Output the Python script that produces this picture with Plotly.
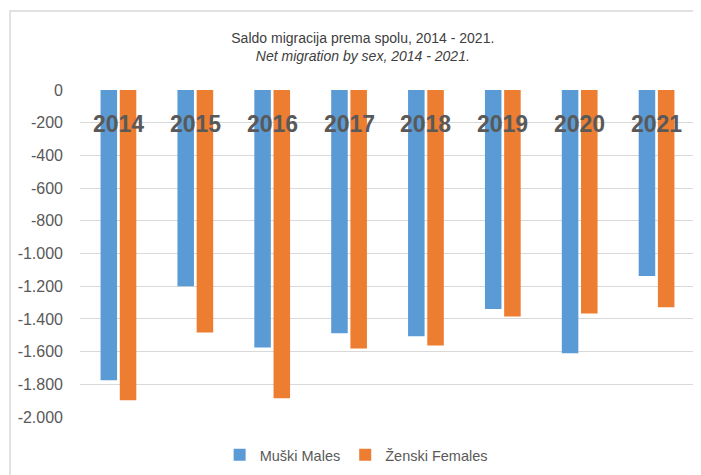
import plotly.graph_objects as go

years = ["2014", "2015", "2016", "2017", "2018", "2019", "2020", "2021"]
males = [-1775, -1200, -1575, -1488, -1506, -1339, -1610, -1137]
females = [-1898, -1483, -1885, -1581, -1563, -1386, -1367, -1328]
y_ticks = [0, -200, -400, -600, -800, -1000, -1200, -1400, -1600, -1800, -2000]
y_tick_text = ["0", "-200", "-400", "-600", "-800", "-1.000", "-1.200", "-1.400", "-1.600", "-1.800", "-2.000"]

FONT = "Liberation Sans Narrow, Arial Narrow, Liberation Sans, Arial, sans-serif"
GREY = "#595959"

fig = go.Figure()
fig.add_trace(go.Bar(x=years, y=males, name="Muški Males",
                     marker=dict(color="#5B9BD5", line=dict(width=0))))
fig.add_trace(go.Bar(x=years, y=females, name="Ženski Females",
                     marker=dict(color="#ED7D31", line=dict(width=0))))

# category labels drawn over the bars near the top (as in the original)
for i, yr in enumerate(years):
    fig.add_annotation(x=i, y=-205, text=yr, showarrow=False,
                       font=dict(family=FONT, size=23, color=GREY, weight="bold"),
                       xanchor="center", yanchor="middle")

# outer chart frame
fig.add_shape(type="rect", xref="paper", yref="paper",
              x0=-0.1138, x1=1.0049, y0=-0.4, y1=1.2416,
              line=dict(color="#D9D9D9", width=1.5), fillcolor="rgba(0,0,0,0)", layer="below")

fig.update_layout(
    width=693, height=467,
    margin=dict(l=72, r=6, t=82, b=58, autoexpand=False),
    paper_bgcolor="white", plot_bgcolor="white",
    font=dict(family=FONT, color=GREY, size=15),
    title=dict(text="Saldo migracija prema spolu, 2014 - 2021.<br><i>Net migration by sex, 2014 - 2021.</i>",
               x=0.512, xanchor="center", y=0.926, yanchor="top", xref="container", yref="container",
               font=dict(family=FONT, size=14, color="#404040")),
    barmode="group", bargap=0.5, bargroupgap=0.14,
    showlegend=True,
    legend=dict(orientation="h", x=0.449, xanchor="center", y=-0.116, yanchor="middle",
                font=dict(family=FONT, size=14.5, color=GREY), itemwidth=30,
                traceorder="normal"),
    xaxis=dict(type="category", range=[-0.5, 7.5], showticklabels=False, showgrid=False,
               zeroline=False, showline=False, ticks="", automargin=False),
    yaxis=dict(range=[-2000, 0], tickvals=y_ticks, ticktext=y_tick_text,
               showgrid=True, gridcolor="#D9D9D9", gridwidth=1, zeroline=False,
               showline=False, ticks="", ticklabelstandoff=16, automargin=False,
               tickfont=dict(family=FONT, size=16, color=GREY)),
)

fig.write_html("out.html")
